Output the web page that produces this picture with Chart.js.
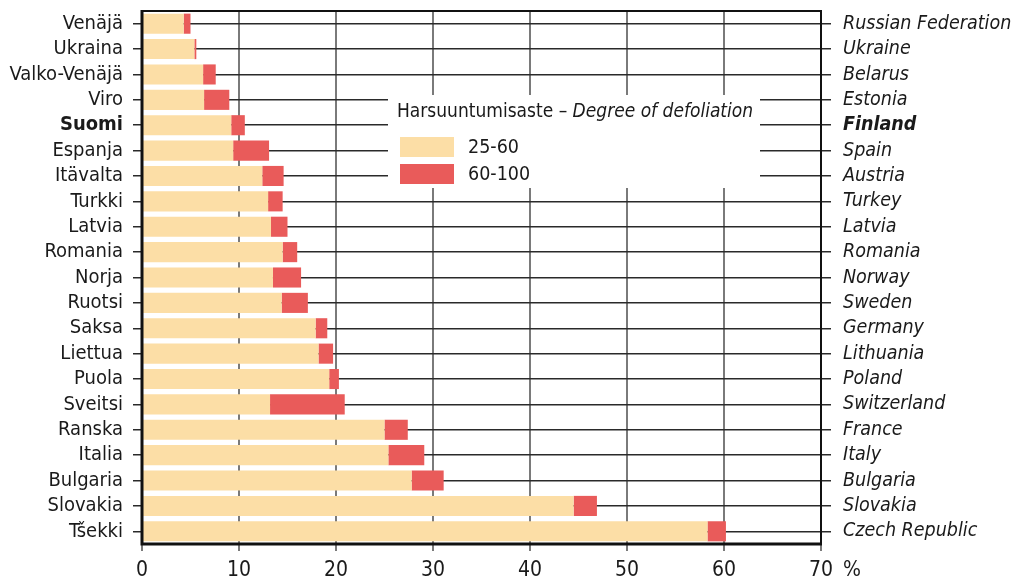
<!DOCTYPE html>
<html>
<head>
<meta charset="utf-8">
<script src="https://cdn.jsdelivr.net/npm/chart.js@4.4.1/dist/chart.umd.min.js"></script>
<style>
  html, body { margin: 0; padding: 0; background: #ffffff; }
  #wrap { width: 1015px; height: 579px; position: relative; }
</style>
</head>
<body>
<div id="wrap"><canvas id="c" width="1015" height="579"></canvas></div>
<script>
// ---- Data ----
const categoriesFi = ["Venäjä","Ukraina","Valko-Venäjä","Viro","Suomi","Espanja","Itävalta","Turkki","Latvia","Romania","Norja","Ruotsi","Saksa","Liettua","Puola","Sveitsi","Ranska","Italia","Bulgaria","Slovakia","Tšekki"];
const categoriesEn = ["Russian Federation","Ukraine","Belarus","Estonia","Finland","Spain","Austria","Turkey","Latvia","Romania","Norway","Sweden","Germany","Lithuania","Poland","Switzerland","France","Italy","Bulgaria","Slovakia","Czech Republic"];
const defol25to60 = [4.3,5.4,6.3,6.4,9.2,9.4,12.4,13.0,13.3,14.5,13.5,14.4,17.9,18.2,19.3,13.2,25.0,25.4,27.8,44.5,58.3];
const defol60to100 = [0.7,0.2,1.3,2.6,1.4,3.7,2.2,1.5,1.7,1.5,2.9,2.7,1.2,1.5,1.0,7.7,2.4,3.7,3.3,2.4,1.9];
const xTicks = [0,10,20,30,40,50,60,70];
const seriesNames = ["25-60","60-100"];
const legendTitle = "Harsuuntumisaste – ";
const legendTitleItalic = "Degree of defoliation";
const unitLabel = "%";
const highlightIndex = 4; // Suomi / Finland

const FONT = "'DejaVu Sans Condensed', 'Liberation Sans Narrow', sans-serif";
const YELLOW = "#fcdea6";
const RED = "#e95b5a";

function noPad(s) { s.paddingTop = 0; s.paddingBottom = 0; s.paddingLeft = 0; s.paddingRight = 0; }

const overlayPlugin = {
  id: 'overlay',
  afterDraw(chart) {
    const ctx = chart.ctx;
    const a = chart.chartArea;
    ctx.save();
    // frame
    ctx.strokeStyle = '#111';
    ctx.lineWidth = 2;
    ctx.beginPath();
    ctx.moveTo(a.left, a.top); ctx.lineTo(a.right, a.top); ctx.lineTo(a.right, a.bottom);
    ctx.stroke();
    ctx.lineWidth = 3;
    ctx.beginPath();
    ctx.moveTo(a.left, a.top - 1); ctx.lineTo(a.left, a.bottom); ctx.lineTo(a.right + 1, a.bottom);
    ctx.stroke();

    // unit label
    ctx.fillStyle = '#1a1a1a';
    ctx.font = '21px ' + FONT;
    ctx.textBaseline = 'middle';
    ctx.textAlign = 'left';
    ctx.fillText(unitLabel, a.right + 22, 571);

    // legend box
    const bx = 388, by = 95, bw = 372, bh = 93;
    ctx.fillStyle = '#ffffff';
    ctx.fillRect(bx, by, bw, bh);
    ctx.fillStyle = '#1a1a1a';
    ctx.font = '19px ' + FONT;
    ctx.textBaseline = 'middle';
    ctx.fillText(legendTitle, 397, 112);
    const w = ctx.measureText(legendTitle).width;
    ctx.font = 'italic 19px ' + FONT;
    ctx.fillText(legendTitleItalic, 397 + w, 112);
    const ds = chart.data.datasets;
    ctx.font = '19.5px ' + FONT;
    ds.forEach((d, i) => {
      const y = 137 + i * 27;
      ctx.fillStyle = d.backgroundColor;
      ctx.fillRect(400, y, 54, 20);
      ctx.fillStyle = '#1a1a1a';
      ctx.fillText(d.label, 468, y + 11);
    });
    ctx.restore();
  }
};

new Chart(document.getElementById('c'), {
  type: 'bar',
  data: {
    labels: categoriesFi,
    datasets: [
      { label: seriesNames[0], data: defol25to60, backgroundColor: YELLOW, borderWidth: 0, barPercentage: 0.9, categoryPercentage: 0.88 },
      { label: seriesNames[1], data: defol60to100, backgroundColor: RED, borderWidth: 0, barPercentage: 0.9, categoryPercentage: 0.88 }
    ]
  },
  options: {
    indexAxis: 'y',
    responsive: false,
    animation: false,
    devicePixelRatio: 1,
    layout: { padding: { top: 11, left: 0, right: 0, bottom: 0 } },
    plugins: { legend: { display: false }, tooltip: { enabled: false } },
    scales: {
      x: {
        stacked: true,
        min: 0, max: 70,
        afterBuildTicks: (s) => { s.ticks = xTicks.map(v => ({ value: v })); },
        afterFit: (s) => { s.height = 35; noPad(s); },
        grid: { color: '#7a7a7a', lineWidth: 2, tickLength: 7, drawTicks: true },
        border: { display: false },
        ticks: { color: '#1a1a1a', font: { family: FONT, size: 21 }, padding: 7, maxRotation: 0 }
      },
      y: {
        stacked: true,
        afterFit: (s) => { s.width = 142; noPad(s); },
        grid: { offset: false, color: '#2a2a2a', lineWidth: 1.5, tickLength: 9 },
        border: { display: false },
        ticks: {
          autoSkip: false,
          color: '#1a1a1a', padding: 10,
          font: (c) => ({ family: FONT, size: 20, weight: c.index === highlightIndex ? 'bold' : 'normal' })
        }
      },
      y2: {
        type: 'category',
        position: 'right',
        labels: categoriesEn,
        offset: true,
        afterFit: (s) => { s.width = 194; noPad(s); },
        grid: { offset: false, drawOnChartArea: false, color: '#2a2a2a', lineWidth: 1.5, tickLength: 10 },
        border: { display: false },
        ticks: {
          autoSkip: false,
          color: '#1a1a1a', padding: 12,
          font: (c) => ({ family: FONT, size: 19.5, style: 'italic', weight: c.index === highlightIndex ? 'bold' : 'normal' })
        }
      }
    }
  },
  plugins: [overlayPlugin]
});
</script>
</body>
</html>
